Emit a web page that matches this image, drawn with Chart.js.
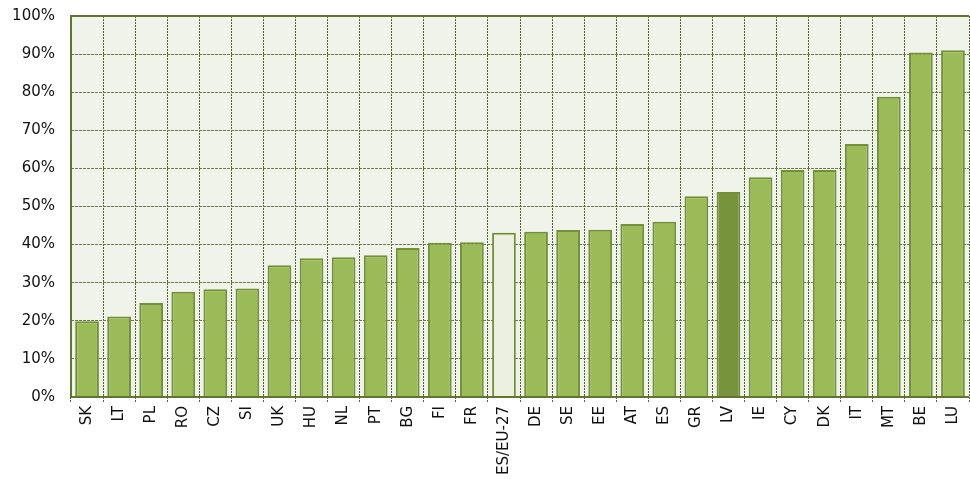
<!DOCTYPE html>
<html>
<head>
<meta charset="utf-8">
<script src="https://cdn.jsdelivr.net/npm/chart.js@4/dist/chart.umd.min.js"></script>
<style>
    html, body { margin: 0; padding: 0; background: #fff; }
    #wrap { width: 970px; height: 483px; }
</style>
</head>
<body>
<div id="wrap"><canvas id="chart" width="970" height="483"></canvas></div>
<script>
// 数据
const countries = ['SK', 'LT', 'PL', 'RO', 'CZ', 'SI', 'UK', 'HU', 'NL', 'PT', 'BG', 'FI', 'FR', 'ES/EU-27',
    'DE', 'SE', 'EE', 'AT', 'ES', 'GR', 'LV', 'IE', 'CY', 'DK', 'IT', 'MT', 'BE', 'LU']
const shares = [19.9, 21.1, 24.7, 27.6, 28.3, 28.5, 34.6, 36.4, 36.7, 37.2, 39.1, 40.5, 40.6, 43.1,
    43.4, 43.8, 43.9, 45.4, 46.0, 52.7, 53.8, 57.7, 59.6, 59.6, 66.4, 78.8, 90.4, 91.0]
const yTicks = [0, 10, 20, 30, 40, 50, 60, 70, 80, 90, 100]

const fillColors = countries.map(c => c === 'LV' ? '#77933c' : (c === 'ES/EU-27' ? '#ebf1de' : '#9bbb59'))

// 绘图区背景与边框
const plotFrame = {
    id: 'plotFrame',
    beforeDraw(chart) {
        const { ctx, chartArea: a } = chart
        ctx.save()
        ctx.fillStyle = '#f0f3ea'
        ctx.fillRect(a.left, a.top, a.right - a.left, a.bottom - a.top)
        ctx.restore()
    },
    afterDraw(chart) {
        const { ctx, chartArea: a } = chart
        ctx.save()
        ctx.strokeStyle = '#5f7530'
        ctx.lineWidth = 2
        ctx.beginPath()
        ctx.moveTo(a.left, a.bottom)
        ctx.lineTo(a.left, a.top)
        ctx.lineTo(a.right, a.top)
        ctx.moveTo(a.left, a.bottom)
        ctx.lineTo(a.right, a.bottom)
        ctx.stroke()
        ctx.restore()
    }
}

new Chart(document.getElementById('chart'), {
    type: 'bar',
    data: {
        labels: countries,
        datasets: [{
            data: shares,
            backgroundColor: fillColors,
            borderColor: '#72903a',
            borderWidth: 2,
            categoryPercentage: 1,
            barPercentage: 0.74
        }]
    },
    options: {
        responsive: false,
        animation: false,
        layout: { padding: { top: 16, right: 1, left: 0, bottom: 0 } },
        plugins: { legend: { display: false }, tooltip: { enabled: false } },
        scales: {
            x: {
                grid: {
                    offset: true,
                    color: '#4f6228',
                    lineWidth: 1,
                    tickLength: 6,
                    tickBorderDash: [2, 1],
                    tickColor: '#4f6228'
                },
                border: { display: false, dash: [2, 1] },
                ticks: {
                    color: '#111',
                    font: { family: 'DejaVu Sans', size: 15 },
                    maxRotation: 90,
                    minRotation: 90,
                    autoSkip: false,
                    padding: 3
                },
                afterFit(scale) {
                    scale.height = 86
                    scale.paddingLeft = 0
                    scale.paddingRight = 0
                }
            },
            y: {
                min: 0,
                max: 100,
                afterBuildTicks(scale) { scale.ticks = yTicks.map(v => ({ value: v })) },
                grid: {
                    color: '#6b7d4a',
                    lineWidth: 1,
                    drawTicks: false
                },
                border: { display: false, dash: [3, 1] },
                ticks: {
                    color: '#111',
                    font: { family: 'DejaVu Sans', size: 15 },
                    padding: 16,
                    callback: v => v + '%'
                },
                afterFit(scale) {
                    scale.width = 71
                    scale.paddingTop = 0
                    scale.paddingBottom = 0
                }
            }
        }
    },
    plugins: [plotFrame]
})
</script>
</body>
</html>
